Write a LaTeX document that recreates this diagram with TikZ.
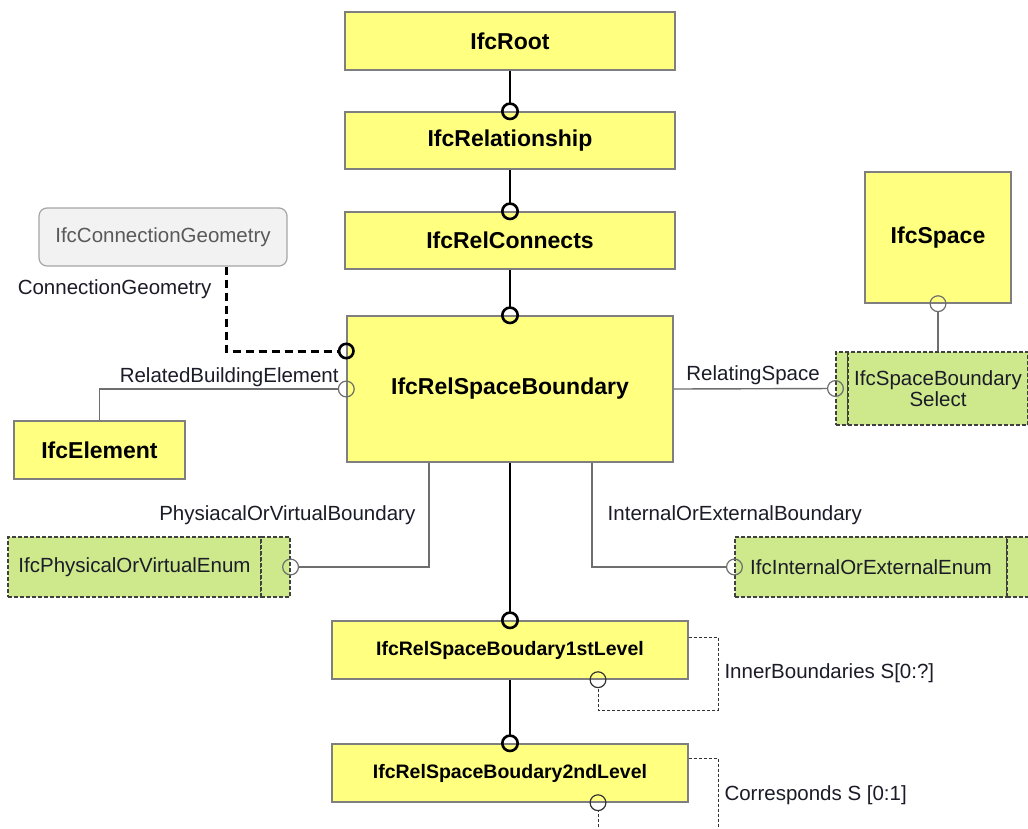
\documentclass[tikz,border=0pt]{standalone}
\usepackage{fontspec}
\setmainfont{Liberation Sans}
\usepackage{xcolor}
\usepackage{tikz}
\usetikzlibrary{arrows.meta}
\definecolor{entityyellow}{HTML}{FFFF80}
\definecolor{selectgreen}{HTML}{CDE98C}
\definecolor{boxborder}{HTML}{7F7F7F}
\definecolor{geomgray}{HTML}{F2F2F2}
\definecolor{attrgray}{HTML}{6E6E6E}
\definecolor{textdark}{HTML}{1C1C28}
\tikzstyle{entity} = [rectangle, draw=boxborder, line width=1.4pt, fill=entityyellow, inner sep=0pt, text=black, font=\fontsize{23}{27}\selectfont\bfseries, minimum width=330pt, minimum height=57pt]
\tikzstyle{levelbox} = [entity, minimum width=356pt, minimum height=58pt, font=\fontsize{19.5}{23}\selectfont\bfseries]
\tikzstyle{select} = [rectangle, draw=black!75, dash pattern=on 4pt off 2pt, line width=1.1pt, fill=selectgreen, inner sep=0pt, text=textdark, font=\fontsize{20.5}{21.6}\selectfont, align=center]
\tikzstyle{geombox} = [rectangle, rounded corners=8pt, draw=black!35, line width=1.2pt, fill=geomgray, text=black!65, font=\fontsize{20.5}{24}\selectfont, minimum width=248pt, minimum height=58pt]
\tikzstyle{attrlabel} = [inner sep=2pt, text=textdark, font=\fontsize{20.5}{24}\selectfont]
\tikzstyle{inherit} = [line width=2.8pt, -{Circle[open, length=18pt, width=18pt, line width=2.6pt]}, shorten >=-9pt]
\tikzstyle{attrib} = [line width=1.4pt, draw=attrgray, -{Circle[open, length=17pt, width=17pt, line width=1.2pt]}, shorten >=-8.5pt]
\tikzstyle{geomlink} = [line width=3pt, dash pattern=on 8pt off 5pt, -{Circle[open, length=17pt, width=17pt, line width=2.6pt]}, shorten >=-8.5pt]
\tikzstyle{selfref} = [line width=1pt, draw=black!80, dash pattern=on 3pt off 2pt, -{Circle[open, length=17pt, width=17pt, line width=1.2pt]}, shorten >=-8.5pt]

\begin{document}
\begin{tikzpicture}[x=1pt, y=-1pt]
    \path[use as bounding box, fill=white] (0,0) rectangle (1028,828);

    % main inheritance chain
    \node[entity, minimum height=58pt] (root) at (510,41) {IfcRoot};
    \node[entity] (rel) at (510,140.5) {IfcRelationship};
    \node[entity] (relconn) at (510,240.5) {IfcRelConnects};
    \node[entity, minimum width=326pt, minimum height=146pt] (rsb) at (510,389) {IfcRelSpaceBoundary};
    \node[levelbox] (lvl1) at (510,650) {IfcRelSpaceBoudary1stLevel};
    \node[levelbox] (lvl2) at (510,773) {IfcRelSpaceBoudary2ndLevel};

    % referenced types
    \node[geombox] (geom) at (163,237) {IfcConnectionGeometry};
    \node[entity, minimum width=171pt, minimum height=58pt] (elem) at (99.5,450) {IfcElement};
    \node[entity, minimum width=146pt, minimum height=131pt] (space) at (938,237.5) {IfcSpace};
    \node[select, minimum width=12pt, minimum height=73pt] (sbhead) at (842,388.5) {};
    \node[select, minimum width=180pt, minimum height=73pt] (sbmain) at (938,388.5) {IfcSpaceBoundary\\Select};
    \node[select, minimum width=253pt, minimum height=60pt] (pvenum) at (134.5,567) {IfcPhysicalOrVirtualEnum};
    \node[select, minimum width=29pt, minimum height=60pt] (pvtail) at (275.5,567) {};
    \node[select, minimum width=272pt, minimum height=60pt] (ieenum) at (871,567) {IfcInternalOrExternalEnum};
    \node[select, minimum width=29pt, minimum height=60pt] (ietail) at (1021.5,567) {};

    \draw[inherit] (root) -- (rel);
    \draw[inherit] (rel) -- (relconn);
    \draw[inherit] (relconn) -- (rsb);
    \draw[inherit] (rsb) -- (lvl1);
    \draw[inherit] (lvl1) -- (lvl2);

    \draw[geomlink] ([xshift=63pt]geom.south) |- ([yshift=38pt]rsb.west) node[attrlabel, pos=0.135, left=11pt] (geomlbl) {ConnectionGeometry};
    \draw[attrib] (elem.north) |- (rsb.west) node[attrlabel, pos=1, above left, xshift=-5pt] (bldglbl) {RelatedBuildingElement};
    \draw[attrib] (rsb.east) -- (sbhead.west) node[attrlabel, pos=0, above right, xshift=10pt, yshift=2pt] (spacelbl) {RelatingSpace};
    \draw[attrib, line width=2.2pt] (sbmain.north) -- (space.south);
    \draw[attrib] ([xshift=-81pt]rsb.south) |- (pvtail.east) node[attrlabel, pos=0.25, left=11pt] (pvlbl) {PhysiacalOrVirtualBoundary};
    \draw[attrib] ([xshift=82pt]rsb.south) |- (ieenum.west) node[attrlabel, pos=0.25, right=13pt] (ielbl) {InternalOrExternalBoundary};

    % self references
    \coordinate (loopa) at (718,710);
    \coordinate (loopb) at (718,833);
    \draw[selfref] ([yshift=13pt]lvl1.east) -| node[attrlabel, pos=0.73, right=4pt, yshift=-3pt] (innerlbl) {InnerBoundaries S[0:?]} (loopa) -| ([xshift=88pt]lvl1.south);
    \draw[selfref] ([yshift=15pt]lvl2.east) -| node[attrlabel, pos=0.73, right=4pt, yshift=-3pt] (corrlbl) {Corresponds S [0:1]} (loopb) -| ([xshift=88pt]lvl2.south);
\end{tikzpicture}
\end{document}
